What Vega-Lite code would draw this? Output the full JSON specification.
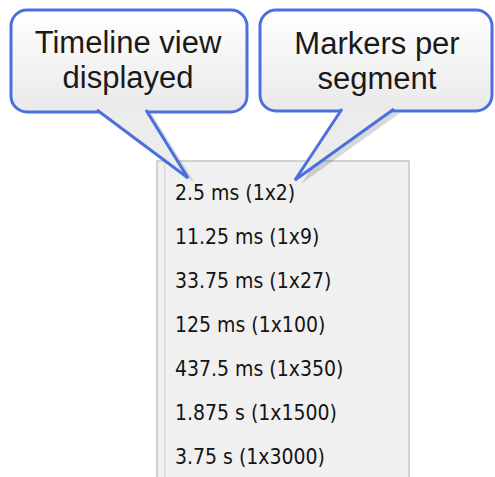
{
  "$schema": "https://vega.github.io/schema/vega-lite/v6.json",
  "width": 495,
  "height": 477,
  "padding": 0,
  "autosize": {"type": "none"},
  "background": "#ffffff",
  "config": {"view": {"stroke": null}},
  "datasets": {
    "panel": [{"x0": 157, "x1": 409, "y0": 161, "y1": 490}],
    "gutter": [{"x": 165, "y0": 162, "y1": 490}],
    "menu": [
      {"label": "2.5 ms (1x2)", "y": 200},
      {"label": "11.25 ms (1x9)", "y": 244},
      {"label": "33.75 ms (1x27)", "y": 288},
      {"label": "125 ms (1x100)", "y": 332},
      {"label": "437.5 ms (1x350)", "y": 376},
      {"label": "1.875 s (1x1500)", "y": 420},
      {"label": "3.75 s (1x3000)", "y": 464}
    ],
    "callouts": [
      {"name": "left", "x0": 11, "x1": 247, "y0": 10, "y1": 112},
      {"name": "right", "x0": 260, "x1": 492, "y0": 10, "y1": 111}
    ],
    "tails": [
      {"callout": "left", "i": 0, "x": 97, "y": 110},
      {"callout": "left", "i": 1, "x": 188, "y": 178},
      {"callout": "left", "i": 2, "x": 146, "y": 110},
      {"callout": "right", "i": 0, "x": 342, "y": 109},
      {"callout": "right", "i": 1, "x": 295, "y": 180},
      {"callout": "right", "i": 2, "x": 394, "y": 109}
    ],
    "titles": [
      {"text": "Timeline view", "x": 128, "y": 53},
      {"text": "displayed", "x": 128, "y": 88},
      {"text": "Markers per", "x": 377, "y": 54},
      {"text": "segment", "x": 377, "y": 89}
    ]
  },
  "layer": [
    {
      "data": {"name": "panel"},
      "mark": {"type": "rect", "fill": "#f0f0f0", "stroke": "#c4c4c4", "strokeWidth": 1.5, "clip": true},
      "encoding": {
        "x": {"field": "x0", "type": "quantitative", "scale": {"domain": [0, 495], "nice": false, "zero": false}, "axis": null},
        "x2": {"field": "x1"},
        "y": {"field": "y0", "type": "quantitative", "scale": {"domain": [477, 0], "nice": false, "zero": false}, "axis": null},
        "y2": {"field": "y1"}
      }
    },
    {
      "data": {"name": "gutter"},
      "mark": {"type": "rule", "stroke": "#d8d8d8", "strokeWidth": 1.5, "clip": true},
      "encoding": {
        "x": {"field": "x", "type": "quantitative"},
        "y": {"field": "y0", "type": "quantitative"},
        "y2": {"field": "y1"}
      }
    },
    {
      "data": {"name": "gutter"},
      "mark": {"type": "rule", "stroke": "#fafafa", "strokeWidth": 1, "xOffset": 1.5, "clip": true},
      "encoding": {
        "x": {"field": "x", "type": "quantitative"},
        "y": {"field": "y0", "type": "quantitative"},
        "y2": {"field": "y1"}
      }
    },
    {
      "data": {"name": "menu"},
      "mark": {"type": "text", "align": "left", "baseline": "alphabetic", "font": "DejaVu Sans Condensed", "fontSize": 21, "fill": "#141414"},
      "encoding": {
        "x": {"datum": 175, "type": "quantitative"},
        "y": {"field": "y", "type": "quantitative"},
        "text": {"field": "label"}
      }
    },
    {
      "data": {"name": "callouts"},
      "mark": {"type": "rect", "cornerRadius": 16, "fill": "#000000", "opacity": 0.08, "xOffset": 6, "yOffset": 7},
      "encoding": {
        "x": {"field": "x0", "type": "quantitative"},
        "x2": {"field": "x1"},
        "y": {"field": "y0", "type": "quantitative"},
        "y2": {"field": "y1"}
      }
    },
    {
      "data": {"name": "callouts"},
      "mark": {"type": "rect", "cornerRadius": 16, "fill": "#000000", "opacity": 0.12, "xOffset": 4, "yOffset": 5},
      "encoding": {
        "x": {"field": "x0", "type": "quantitative"},
        "x2": {"field": "x1"},
        "y": {"field": "y0", "type": "quantitative"},
        "y2": {"field": "y1"}
      }
    },
    {
      "data": {"name": "tails"},
      "mark": {"type": "line", "fill": "#000000", "fillOpacity": 0.15, "strokeOpacity": 0, "xOffset": 6, "yOffset": 4},
      "encoding": {
        "x": {"field": "x", "type": "quantitative"},
        "y": {"field": "y", "type": "quantitative"},
        "detail": {"field": "callout"},
        "order": {"field": "i"}
      }
    },
    {
      "data": {"name": "callouts"},
      "mark": {
        "type": "rect",
        "cornerRadius": 16,
        "stroke": "#4a70e0",
        "strokeWidth": 3,
        "fill": {"gradient": "linear", "x1": 0, "y1": 0, "x2": 0, "y2": 1, "stops": [{"offset": 0, "color": "#ffffff"}, {"offset": 1, "color": "#e9e9e9"}]}
      },
      "encoding": {
        "x": {"field": "x0", "type": "quantitative"},
        "x2": {"field": "x1"},
        "y": {"field": "y0", "type": "quantitative"},
        "y2": {"field": "y1"}
      }
    },
    {
      "data": {"name": "tails"},
      "mark": {"type": "line", "fill": "#ececec", "stroke": "#4a70e0", "strokeWidth": 3, "strokeJoin": "miter", "strokeCap": "butt"},
      "encoding": {
        "x": {"field": "x", "type": "quantitative"},
        "y": {"field": "y", "type": "quantitative"},
        "detail": {"field": "callout"},
        "order": {"field": "i"}
      }
    },
    {
      "data": {"name": "titles"},
      "mark": {"type": "text", "align": "center", "baseline": "alphabetic", "font": "Liberation Sans", "fontSize": 31, "fill": "#1a1a1a"},
      "encoding": {
        "x": {"field": "x", "type": "quantitative"},
        "y": {"field": "y", "type": "quantitative"},
        "text": {"field": "text"}
      }
    }
  ]
}
